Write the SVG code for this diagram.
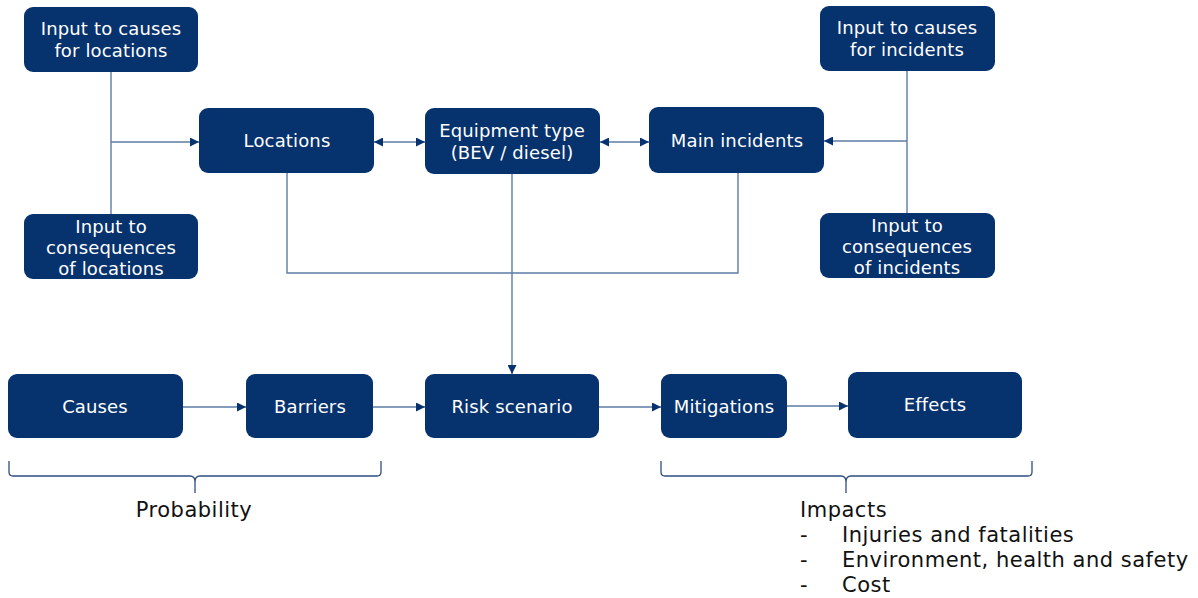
<svg xmlns="http://www.w3.org/2000/svg" width="1198" height="598" viewBox="0 0 1198 598">
<style>
.box{fill:#06326E;}
.lbl{font-family:"DejaVu Sans",Verdana,sans-serif;font-size:18px;fill:#FFFFFF;text-anchor:middle;letter-spacing:0.15px;}
.con{fill:none;stroke:#5E7BA5;stroke-width:1.4;}
.brace{fill:none;stroke:#2E4E7E;stroke-width:1.3;}
.cap{font-family:"DejaVu Sans",Verdana,sans-serif;font-size:21px;fill:#111111;letter-spacing:0.5px;}
</style>
<defs>
<marker id="ah" viewBox="0 0 10 10" refX="10" refY="5" markerWidth="9" markerHeight="9" markerUnits="userSpaceOnUse" orient="auto-start-reverse">
<path d="M0,0 L10,5 L0,10 z" fill="#06326E"/>
</marker>
</defs>
<g id="connectors">
<path class="con" d="M111,72 V214"/>
<path class="con" d="M111,142 H199" marker-end="url(#ah)"/>
<path class="con" d="M907,71 V213"/>
<path class="con" d="M907,141 H824" marker-end="url(#ah)"/>
<path class="con" d="M374,142 H425" marker-start="url(#ah)" marker-end="url(#ah)"/>
<path class="con" d="M600,142 H649" marker-start="url(#ah)" marker-end="url(#ah)"/>
<path class="con" d="M287,173 V273 H738 V173"/>
<path class="con" d="M512,174 V374" marker-end="url(#ah)"/>
<path class="con" d="M183,407 H246" marker-end="url(#ah)"/>
<path class="con" d="M373,407 H425" marker-end="url(#ah)"/>
<path class="con" d="M599,407 H661" marker-end="url(#ah)"/>
<path class="con" d="M787,406 H848" marker-end="url(#ah)"/>
</g>
<g id="n_icl"><rect class="box" x="24" y="7" width="174" height="65" rx="9"/><text class="lbl" x="111" y="35">Input to causes</text><text class="lbl" x="111" y="57">for locations</text></g>
<g id="n_iql"><rect class="box" x="24" y="214" width="174" height="65" rx="9"/><text class="lbl" x="111" y="233">Input to</text><text class="lbl" x="111" y="254">consequences</text><text class="lbl" x="111" y="275">of locations</text></g>
<g id="n_loc"><rect class="box" x="199" y="108" width="175" height="65" rx="9"/><text class="lbl" x="287" y="147">Locations</text></g>
<g id="n_eq"><rect class="box" x="425" y="108" width="175" height="66" rx="9"/><text class="lbl" x="512" y="137">Equipment type</text><text class="lbl" x="512" y="159">(BEV / diesel)</text></g>
<g id="n_mi"><rect class="box" x="649" y="107" width="175" height="66" rx="9"/><text class="lbl" x="737" y="147">Main incidents</text></g>
<g id="n_ici"><rect class="box" x="820" y="6" width="175" height="65" rx="9"/><text class="lbl" x="907" y="34">Input to causes</text><text class="lbl" x="907" y="56">for incidents</text></g>
<g id="n_iqi"><rect class="box" x="820" y="213" width="175" height="65" rx="9"/><text class="lbl" x="907" y="232">Input to</text><text class="lbl" x="907" y="253">consequences</text><text class="lbl" x="907" y="274">of incidents</text></g>
<g id="n_causes"><rect class="box" x="8" y="374" width="175" height="64" rx="9"/><text class="lbl" x="95" y="413">Causes</text></g>
<g id="n_barriers"><rect class="box" x="246" y="374" width="127" height="64" rx="9"/><text class="lbl" x="310" y="413">Barriers</text></g>
<g id="n_risk"><rect class="box" x="425" y="374" width="174" height="64" rx="9"/><text class="lbl" x="512" y="413">Risk scenario</text></g>
<g id="n_mit"><rect class="box" x="661" y="374" width="126" height="64" rx="9"/><text class="lbl" x="724" y="413">Mitigations</text></g>
<g id="n_eff"><rect class="box" x="848" y="372" width="174" height="66" rx="9"/><text class="lbl" x="935" y="411">Effects</text></g>
<g id="braces">
<path class="brace" d="M9,461 V472 Q9,476 13,476 H190 Q195,476 195,482 V493 M195,482 Q195,476 200,476 H377 Q381,476 381,472 V461"/>
<path class="brace" d="M661,461 V472 Q661,476 665,476 H841 Q846,476 846,482 V493 M846,482 Q846,476 851,476 H1028 Q1032,476 1032,472 V461"/>
</g>
<g id="captions">
<text class="cap" x="194" y="517" text-anchor="middle">Probability</text>
<text class="cap" x="800" y="517">Impacts</text>
<text class="cap" x="800" y="542">-</text><text class="cap" x="842" y="542">Injuries and fatalities</text>
<text class="cap" x="800" y="567">-</text><text class="cap" x="842" y="567">Environment, health and safety</text>
<text class="cap" x="800" y="592">-</text><text class="cap" x="842" y="592">Cost</text>
</g>
</svg>
